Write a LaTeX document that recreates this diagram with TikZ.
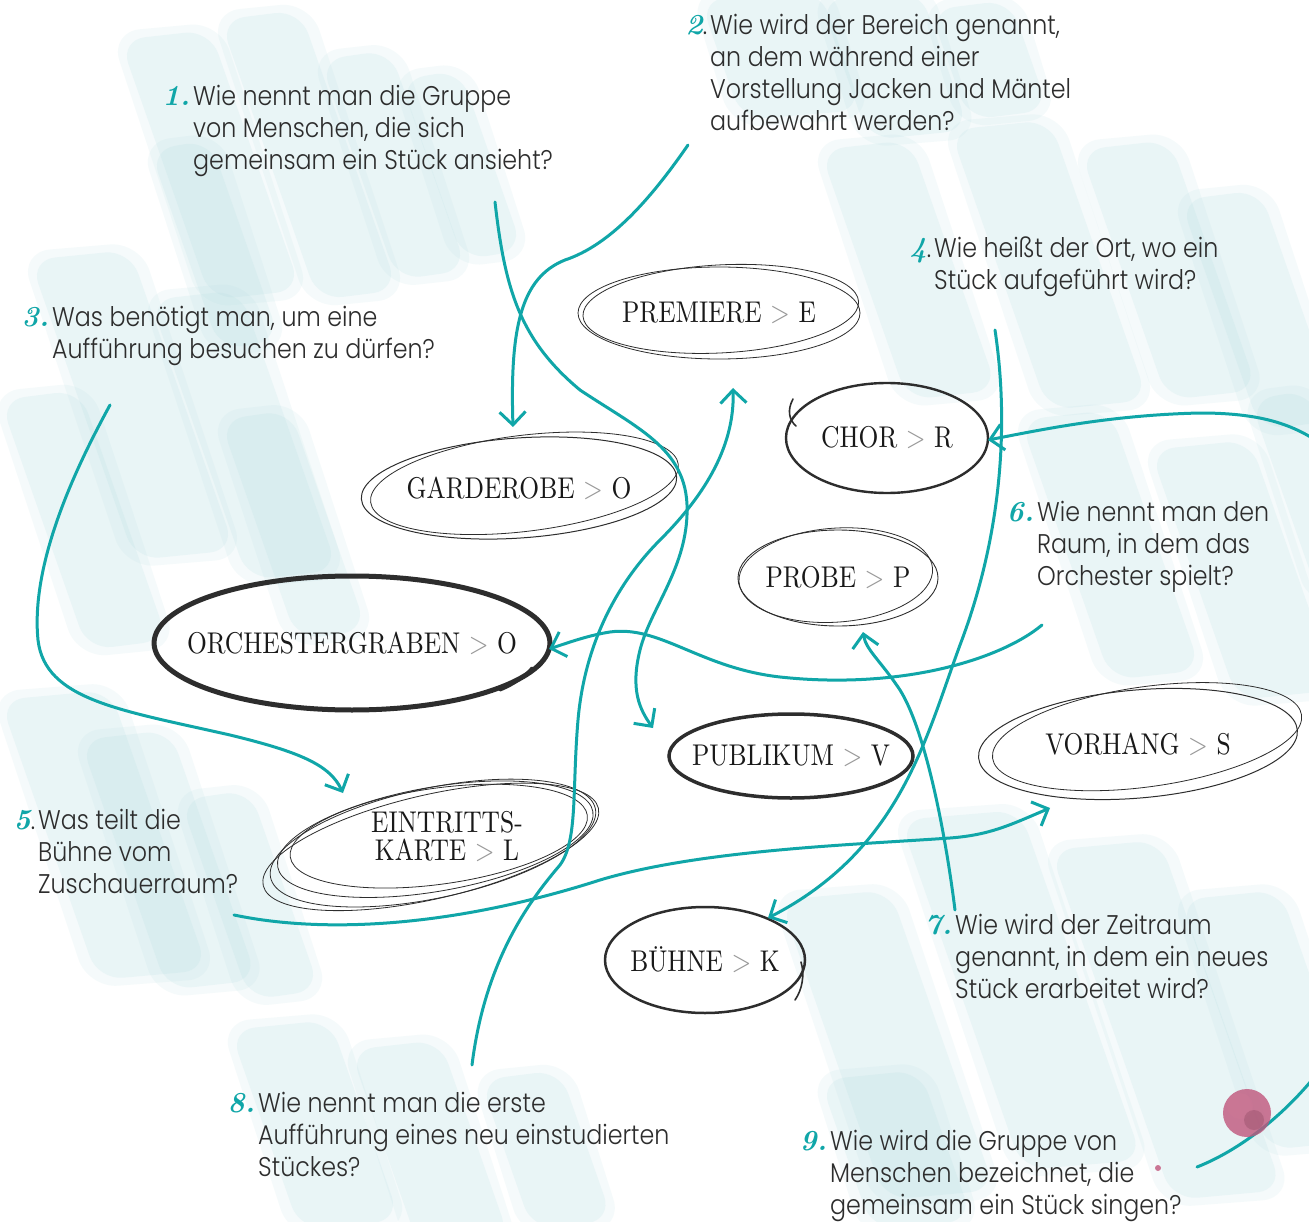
\documentclass[tikz,border=0pt]{standalone}
\usepackage{fontspec}
\setmainfont{Poppins}[UprightFont=* Light, FakeStretch=0.88]
\newfontfamily\lblfont{lmroman10-regular}[Extension=.otf,FakeStretch=0.85]
\newfontfamily\numfont{lmroman10-bolditalic}[Extension=.otf]
\usetikzlibrary{arrows.meta,calc,shapes.geometric}
\definecolor{tealc}{RGB}{16,166,168}
\definecolor{brush}{RGB}{176,220,224}
\definecolor{ink}{RGB}{45,45,45}
\definecolor{blobc}{RGB}{192,86,124}
\newcommand\qn[1]{\llap{{\numfont\fontsize{29}{32}\selectfont\color{tealc}#1}\hspace{3pt}}}
\newcommand\qnb[1]{\llap{{\numfont\fontsize{29}{32}\selectfont\color{tealc}#1}.\hspace{3pt}}}
\newcommand\gtsym{{\color{black!40}>}}
\newcommand\bstroke[4]{%
  \fill[brush,opacity=0.12,rounded corners=30pt] ({#1-10},{#2-8}) -- ++({#4+20},-10) -- ++({0.35*#3},{#3+16}) -- ++({-#4-20},10) -- cycle;
  \fill[brush,opacity=0.16,rounded corners=25pt] (#1,#2) -- ++(#4,-10) -- ++({0.35*#3},#3) -- ++(-#4,10) -- cycle;}
\tikzset{
  qtext/.style={anchor=north west, align=left, inner sep=0pt, font=\fontsize{27}{32}\selectfont, text=ink},
  lbl/.style={font=\lblfont\fontsize{30}{28}\selectfont, text=black!90, inner sep=0pt, align=center},
  ell/.style={lbl, shape=ellipse, draw=ink, inner xsep=-25pt},
  thinsk/.style={draw=ink, line width=0.8pt},
  conn/.style={draw=tealc, line width=3pt, line cap=round, -{Straight Barb[length=13pt,width=26pt]}},
}
\begin{document}
\begin{tikzpicture}[x=1pt,y=-1pt]
\useasboundingbox (0,0) rectangle (1309,1222);
\fill[white] (0,0) rectangle (1309,1222);
\begin{scope}
\clip (0,0) rectangle (1309,1222);
% watercolour brush strokes
\bstroke{120}{40}{260}{90}\bstroke{220}{20}{280}{80}\bstroke{320}{60}{220}{70}
\bstroke{150}{150}{200}{60}\bstroke{400}{80}{180}{60}
\bstroke{30}{260}{300}{100}\bstroke{150}{300}{280}{90}\bstroke{0}{400}{250}{80}\bstroke{220}{420}{220}{70}
\bstroke{700}{0}{120}{120}\bstroke{820}{0}{140}{100}\bstroke{930}{10}{110}{80}
\bstroke{820}{150}{250}{90}\bstroke{950}{130}{280}{100}\bstroke{1080}{150}{250}{90}\bstroke{1180}{200}{230}{80}
\bstroke{1020}{420}{260}{90}\bstroke{1150}{450}{250}{100}\bstroke{1250}{400}{200}{59}
\bstroke{0}{700}{280}{110}\bstroke{80}{740}{250}{90}\bstroke{180}{800}{200}{70}
\bstroke{230}{1030}{200}{100}\bstroke{350}{1050}{200}{90}\bstroke{480}{1080}{150}{80}
\bstroke{780}{900}{300}{110}\bstroke{900}{820}{350}{120}\bstroke{1050}{850}{350}{110}
\bstroke{1180}{900}{250}{100}\bstroke{820}{1080}{150}{100}

% questions
\node[qtext] (q1) at (193,85) {\qn{1.}Wie nennt man die Gruppe\\von Menschen, die sich\\gemeinsam ein Stück ansieht?};
\node[qtext] (q2) at (710,14) {\qnb{2}Wie wird der Bereich genannt,\\an dem während einer\\Vorstellung Jacken und Mäntel\\aufbewahrt werden?};
\node[qtext] (q3) at (52,306) {\qn{3.}Was benötigt man, um eine\\Aufführung besuchen zu dürfen?};
\node[qtext] (q4) at (934,237) {\qnb{4}Wie heißt der Ort, wo ein\\Stück aufgeführt wird?};
\node[qtext] (q5) at (38,809) {\qnb{5}Was teilt die\\Bühne vom\\Zuschauerraum?};
\node[qtext] (q6) at (1037,501) {\qn{6.}Wie nennt man den\\Raum, in dem das\\Orchester spielt?};
\node[qtext] (q7) at (955,914) {\qn{7.}Wie wird der Zeitraum\\genannt, in dem ein neues\\Stück erarbeitet wird?};
\node[qtext] (q8) at (258,1092) {\qn{8.}Wie nennt man die erste\\Aufführung eines neu einstudierten\\Stückes?};
\node[qtext] (q9) at (830,1130) {\qn{9.}Wie wird die Gruppe von\\Menschen bezeichnet, die\\gemeinsam ein Stück singen?};

% answer ellipses
\node[ell, line width=0.8pt, minimum width=282pt, minimum height=92pt] (prem) at (719,313) {PREMIERE \gtsym{} E};
\draw[thinsk, rotate around={3:(prem.center)}] ($(prem.center)+(2,-4)$) ellipse [x radius=138, y radius=44];

\node[ell, line width=2.4pt, minimum width=202pt, minimum height=110pt] (chor) at (887,438) {CHOR \gtsym{} R};
\draw[draw=ink, line width=1.6pt, line cap=round] (793,399) .. controls (787,410) and (789,420) .. (796,426);

\node[lbl, minimum width=316pt, minimum height=100pt] (gard) at (519,488) {GARDEROBE \gtsym{} O};
\draw[thinsk, line width=1pt, rotate around={4:(gard.center)}] (gard.center) ellipse [x radius=158, y radius=50];
\draw[thinsk, rotate around={7:(gard.center)}] ($(gard.center)+(6,-4)$) ellipse [x radius=155, y radius=48];

\node[ell, line width=0.9pt, minimum width=200pt, minimum height=96pt] (probe) at (838,578) {PROBE \gtsym{} P};
\draw[thinsk, rotate around={4:(probe.center)}] ($(probe.center)+(-2,-3)$) ellipse [x radius=97, y radius=47];

\node[ell, line width=5pt, minimum width=392pt, minimum height=134pt] (orch) at (352,643) {ORCHESTERGRABEN \gtsym{} O};
\draw[draw=ink, line width=3pt, line cap=round] (500,690) .. controls (515,684) and (525,676) .. (532,668);

\node[ell, line width=3.5pt, minimum width=244pt, minimum height=84pt] (pub) at (791,756) {PUBLIKUM \gtsym{} V};

\node[lbl, minimum width=320pt, minimum height=110pt] (vorh) at (1138,744) {VORHANG \gtsym{} S};
\draw[thinsk, line width=1pt, rotate around={5:(vorh.center)}] (vorh.center) ellipse [x radius=160, y radius=54];
\draw[thinsk, rotate around={8:(vorh.center)}] ($(vorh.center)+(10,-6)$) ellipse [x radius=156, y radius=50];

\node[lbl, minimum width=320pt, minimum height=104pt] (eint) at (447,837) {EINTRITTS-\\KARTE \gtsym{} L};
\draw[thinsk, rotate around={10:(eint.center)}] ($(eint.center)+(-12,0)$) ellipse [x radius=160, y radius=52];
\draw[thinsk, rotate around={12:(eint.center)}] ($(eint.center)+(-15,3)$) ellipse [x radius=166, y radius=55];
\draw[thinsk, rotate around={8:(eint.center)}] ($(eint.center)+(-8,-2)$) ellipse [x radius=150, y radius=48];
\draw[thinsk, rotate around={13:(eint.center)}] ($(eint.center)+(-18,6)$) ellipse [x radius=172, y radius=52];

\node[ell, line width=2.5pt, minimum width=200pt, minimum height=106pt] (buhne) at (705,960) {BÜHNE \gtsym{} K};
\draw[draw=ink, line width=1.6pt, line cap=round] (801,962) .. controls (805,975) and (802,990) .. (795,1000);

% connector start points
\coordinate (s1) at (495,202);
\coordinate (s2) at (688,145);
\coordinate (s3) at (110,405);
\coordinate (s4) at (995,330);
\coordinate (s5) at (234,915);
\coordinate (s6) at (1042,625);
\coordinate (s7) at (955,910);
\coordinate (s8) at (472,1065);
\coordinate (s9) at (1197,1167);

% connectors
\draw[conn] (s1) .. controls (505,290) and (520,340) .. (580,390) .. controls (640,430) and (690,450) .. (687,515) .. controls (685,570) and (650,610) .. (640,650) .. controls (630,690) and (640,710) .. ($(pub.center)+(-138,-28)$);
\draw[conn] (s2) .. controls (650,200) and (610,245) .. (565,260) .. controls (520,278) and (510,330) .. ($(gard.center)+(-6,-61)$);
\draw[conn] (s3) .. controls (80,460) and (30,560) .. (38,640) .. controls (45,700) and (120,710) .. (230,735) .. controls (300,752) and (330,765) .. ($(eint.center)+(-104,-44)$);
\draw[conn] (s4) .. controls (1010,430) and (1000,540) .. (960,645) .. controls (925,740) and (900,850) .. ($(buhne.center)+(63,-42)$);
\draw[conn] (s5) .. controls (330,935) and (460,925) .. (600,880) .. controls (700,850) and (850,845) .. (950,838) .. controls (990,835) and (1010,825) .. ($(vorh.center)+(-88,64)$);
\draw[conn] (s6) .. controls (1000,660) and (900,690) .. (780,677) .. controls (700,668) and (660,625) .. (610,632) .. controls (590,635) and (570,642) .. ($(orch.center)+(197,6)$);
\draw[conn] (s7) .. controls (945,830) and (925,730) .. (900,690) .. controls (880,660) and (866,650) .. ($(probe.center)+(25,54)$);
\draw[conn] (s8) .. controls (485,960) and (530,900) .. (560,865) .. controls (578,840) and (572,790) .. (578,720) .. controls (585,640) and (620,580) .. (660,540) .. controls (700,500) and (735,450) .. ($(prem.center)+(14,75)$);
\draw[conn] (s9) .. controls (1240,1150) and (1285,1115) .. (1320,1070) .. controls (1420,900) and (1420,520) .. (1330,450) .. controls (1300,428) and (1270,413) .. (1200,413) .. controls (1110,415) and (1040,430) .. ($(chor.center)+(101,2)$);

% ink blob
\fill[blobc, opacity=0.8] (1247,1113) circle (24);
\fill[blobc!80!white, opacity=0.45] (1240,1106) circle (13);
\fill[blobc!60!black, opacity=0.25] (1254,1120) circle (10);
\fill[blobc, opacity=0.8] (1158,1168) circle (3);
\end{scope}
\end{tikzpicture}
\end{document}
